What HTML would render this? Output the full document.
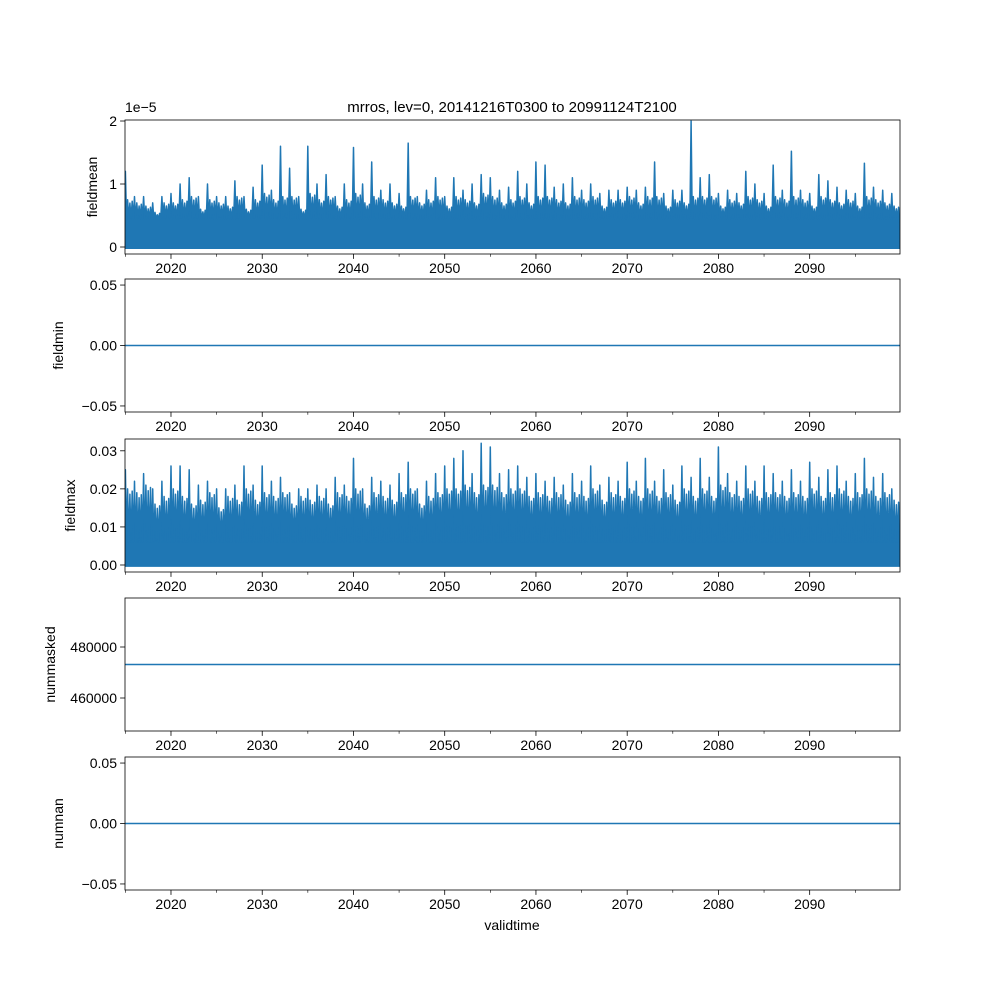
<!DOCTYPE html>
<html><head><meta charset="utf-8"><style>
body{margin:0;background:#fff}
svg{font-family:"Liberation Sans","DejaVu Sans",sans-serif;font-size:14px}
</style></head><body>
<svg id="fig" width="1000" height="1000" viewBox="0 0 1000 1000">
<rect width="1000" height="1000" fill="#fff"/>
<text x="512" y="112" text-anchor="middle" font-size="15">mrros, lev=0, 20141216T0300 to 20991124T2100</text>
</svg>
<script>
const years=[];for(let y=2015;y<=2099;y++)years.push(y);
const meanMax=[1.2,0.8,0.8,0.7,0.8,0.85,1.0,1.1,0.8,1.0,0.8,0.8,1.05,0.8,0.95,1.3,0.9,1.6,1.25,0.8,1.6,1.0,1.15,0.8,1.0,1.58,1.0,1.35,0.9,1.0,0.85,1.65,0.8,0.9,1.1,0.8,1.1,0.9,1.0,1.15,1.1,0.9,0.95,1.2,1.0,1.35,1.3,0.95,1.0,1.1,0.9,1.0,0.85,0.9,0.9,0.95,0.9,0.95,1.35,0.85,0.9,0.9,2.0,1.1,1.15,0.85,0.9,0.85,1.2,1.0,0.85,1.3,0.9,1.52,0.9,0.85,1.15,1.05,0.95,0.9,0.85,1.33,0.95,0.9,0.85];
const meanTyp=[0.75,0.7,0.65,0.55,0.7,0.7,0.75,0.8,0.6,0.75,0.7,0.65,0.8,0.6,0.75,0.85,0.75,0.8,0.8,0.6,0.85,0.75,0.8,0.65,0.75,0.85,0.7,0.8,0.75,0.7,0.65,0.8,0.7,0.75,0.8,0.65,0.8,0.75,0.7,0.85,0.8,0.7,0.75,0.8,0.7,0.8,0.8,0.75,0.7,0.8,0.75,0.8,0.65,0.75,0.75,0.8,0.7,0.8,0.8,0.65,0.75,0.7,0.8,0.8,0.8,0.65,0.75,0.7,0.8,0.75,0.65,0.8,0.75,0.8,0.75,0.65,0.8,0.75,0.7,0.75,0.65,0.8,0.75,0.7,0.65];
const maxMax=[0.025,0.022,0.024,0.02,0.022,0.026,0.026,0.025,0.021,0.022,0.02,0.02,0.021,0.026,0.021,0.026,0.022,0.023,0.019,0.02,0.02,0.021,0.02,0.023,0.021,0.028,0.02,0.023,0.022,0.021,0.024,0.027,0.02,0.022,0.024,0.026,0.028,0.03,0.024,0.032,0.031,0.024,0.025,0.026,0.023,0.024,0.022,0.023,0.021,0.024,0.022,0.026,0.021,0.023,0.022,0.027,0.022,0.028,0.022,0.025,0.021,0.026,0.023,0.028,0.023,0.031,0.024,0.022,0.026,0.022,0.026,0.024,0.022,0.025,0.022,0.027,0.023,0.025,0.026,0.022,0.024,0.028,0.023,0.024,0.02];
const maxTyp=[0.02,0.019,0.021,0.016,0.018,0.02,0.018,0.016,0.017,0.019,0.015,0.018,0.017,0.02,0.017,0.019,0.018,0.019,0.016,0.018,0.017,0.018,0.016,0.019,0.018,0.02,0.016,0.019,0.018,0.017,0.019,0.02,0.016,0.018,0.019,0.02,0.02,0.021,0.019,0.021,0.021,0.019,0.02,0.02,0.018,0.019,0.018,0.019,0.017,0.019,0.018,0.02,0.017,0.019,0.018,0.02,0.018,0.02,0.018,0.019,0.017,0.02,0.018,0.02,0.018,0.021,0.019,0.018,0.02,0.018,0.019,0.019,0.018,0.019,0.018,0.02,0.018,0.019,0.02,0.018,0.019,0.02,0.018,0.019,0.017];
const maxLo=0.006, meanLo=0.45;
const constMin=0, constMasked=473137, constNan=0;
const xTicks=[2020,2030,2040,2050,2060,2070,2080,2090];
const xMinor=[2015,2025,2035,2045,2055,2065,2075,2085,2095];
const NS='http://www.w3.org/2000/svg';
const svg=document.getElementById('fig');
const X0=125,X1=900,T0=2014.96,T1=2099.9;
const xs=t=>X0+(t-T0)/(T1-T0)*(X1-X0);
function mk(tag,attrs,parent){const e=document.createElementNS(NS,tag);for(const k in attrs)e.setAttribute(k,attrs[k]);(parent||svg).appendChild(e);return e;}
const panels=[
 {name:'fieldmean',top:120,bot:254,d0:-0.111,d1:2.016,ticks:[0,1,2],labels:['0','1','2'],lx:97},
 {name:'fieldmin',top:279,bot:412,d0:-0.055,d1:0.055,ticks:[-0.05,0,0.05],labels:['−0.05','0.00','0.05'],lx:63},
 {name:'fieldmax',top:439,bot:572,d0:-0.00184,d1:0.0331,ticks:[0,0.01,0.02,0.03],labels:['0.00','0.01','0.02','0.03'],lx:75},
 {name:'nummasked',top:598,bot:731,d0:447059,d1:499216,ticks:[460000,480000],labels:['460000','480000'],lx:55},
 {name:'numnan',top:757,bot:890,d0:-0.055,d1:0.055,ticks:[-0.05,0,0.05],labels:['−0.05','0.00','0.05'],lx:63}
];
panels.forEach((p,i)=>{
 const g=mk('g',{});
 
 
 const ys=v=>p.bot-(v-p.d0)/(p.d1-p.d0)*(p.bot-p.top);
 const clip=mk('clipPath',{id:'c'+i},g);mk('rect',{x:X0,y:p.top,width:X1-X0,height:p.bot-p.top},clip);
 const dg=mk('g',{'clip-path':'url(#c'+i+')'},g);
 if(i===0||i===2){
  const hi=i===0?meanMax:maxMax;
  const ty=i===0?meanTyp:maxTyp;
  let pts=[];
  years.forEach((y,k)=>{
   const typ=ty[k], lo=i===0?meanLo:maxLo;
   pts.push([y,hi[k]],[y+0.12,lo],[y+0.25,typ],[y+0.37,lo],[y+0.5,typ*0.93],[y+0.62,lo],[y+0.75,typ*0.97],[y+0.87,lo]);
  });
  const base=i===0?-0.02:-0.0003;
  let d='M'+xs(2014.96)+','+ys(base);
  pts.forEach(q=>{d+=' L'+xs(q[0]).toFixed(1)+','+ys(q[1]).toFixed(1);});
  d+=' L'+xs(2099.9)+','+ys(base)+' Z';
  const a=mk('path',{d:d,fill:'#1f77b4',stroke:'#1f77b4','stroke-width':1.5,'stroke-linejoin':'round'},dg);
  
  
 } else {
  const v=i===1?constMin:i===3?constMasked:constNan;
  const l=mk('line',{x1:X0,x2:X1,y1:ys(v),y2:ys(v),stroke:'#1f77b4','stroke-width':1.5},dg);
  
  
 }
 const fr=mk('rect',{x:X0,y:p.top,width:X1-X0,height:p.bot-p.top,fill:'none',stroke:'#000','stroke-width':0.8},g);
 
 
 xTicks.forEach(t=>{const x=xs(t);mk('line',{x1:x,x2:x,y1:p.bot,y2:p.bot+4.9,stroke:'#000','stroke-width':0.8},g);
  const tx=mk('text',{x:x,y:p.bot+19,'text-anchor':'middle'},g);tx.textContent=t;
  
  });
 xMinor.forEach(t=>{const x=xs(t);mk('line',{x1:x,x2:x,y1:p.bot,y2:p.bot+2.8,stroke:'#000','stroke-width':0.6},g);});
 p.ticks.forEach((t,k)=>{const y=ys(t);mk('line',{x1:X0-4.9,x2:X0,y1:y,y2:y,stroke:'#000','stroke-width':0.8},g);
  const tx=mk('text',{x:X0-8,y:y+5,'text-anchor':'end'},g);tx.textContent=p.labels[k];
  
  });
 const yl=mk('text',{x:p.lx,y:(p.top+p.bot)/2,'text-anchor':'middle',transform:'rotate(-90 '+p.lx+' '+(p.top+p.bot)/2+')'},g);
 yl.textContent=p.name;
 
 
});
const off=mk('text',{x:125,y:112});off.textContent='1e−5';


const xl=mk('text',{x:512,y:930,'text-anchor':'middle'});xl.textContent='validtime';


</script>
</body></html>
